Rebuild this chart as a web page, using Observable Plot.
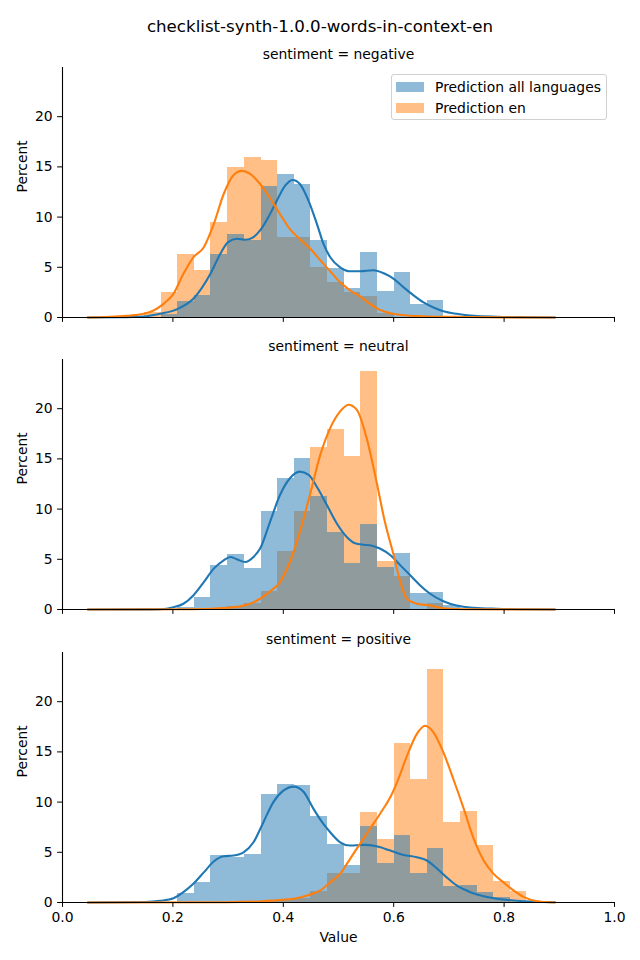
<!DOCTYPE html>
<html><head><meta charset="utf-8">
<script src="https://cdn.jsdelivr.net/npm/d3@7"></script>
<script src="https://cdn.jsdelivr.net/npm/@observablehq/plot@0.6"></script>
<style>
body{margin:0;background:#fff;font-family:"DejaVu Sans",sans-serif;}
#fig{position:relative;width:640px;height:960px;background:#fff;}
#title{position:absolute;top:17px;left:0;width:640px;text-align:center;font-size:16.67px;line-height:20px;color:#000;}
.panel{position:absolute;left:0;}
#legend{position:absolute;left:391px;top:74px;width:216px;height:46px;box-sizing:border-box;border:1px solid #d0d0d0;border-radius:3px;background:rgba(255,255,255,0.8);z-index:5;font-size:13.9px;color:#000;}
.lrow{position:absolute;left:4px;height:16px;line-height:16px;}
.lpatch{position:absolute;left:0;top:3px;width:28px;height:10px;}
.ltext{position:absolute;left:39px;top:0;white-space:nowrap;}
</style></head>
<body><div id="fig"><div id="title">checklist-synth-1.0.0-words-in-context-en</div></div>
<script>
// ---------------- data ----------------
const facets = ["negative", "neutral", "positive"];
const seriesNames = ["Prediction all languages", "Prediction en"];
const xTicks = [0, 0.2, 0.4, 0.6, 0.8, 1.0];
const yTicks = [0, 5, 10, 15, 20];
const binEdges = [0.149, 0.179, 0.209, 0.239, 0.269, 0.299, 0.329, 0.360, 0.390, 0.420, 0.450, 0.480,
                  0.510, 0.540, 0.571, 0.601, 0.631, 0.661, 0.691, 0.721, 0.751, 0.781, 0.811, 0.841];
// percent per bin (23 bins)
const negAll = [0, 0.3, 1.63, 2.19, 6.28, 8.27, 7.68, 13.06, 14.26, 13.26, 7.68, 4.87, 2.87, 6.45, 2.63, 4.49, 1.30, 1.70, 0, 0, 0, 0, 0];
const negEn  = [0.47, 2.5, 6.28, 4.69, 9.47, 14.96, 15.95, 15.68, 7.98, 7.98, 4.99, 3.52, 2.49, 2.09, 0.43, 0, 0, 0, 0, 0, 0, 0, 0];
const neuAll = [0, 0, 0.2, 1.17, 4.4, 5.5, 4.13, 9.8, 13.0, 15.0, 11.3, 7.7, 4.6, 8.5, 4.2, 5.6, 1.6, 1.67, 0.35, 0, 0, 0, 0];
const neuEn  = [0, 0, 0, 0, 0.1, 0.3, 0.57, 1.8, 5.8, 9.73, 16.1, 17.9, 15.2, 23.73, 4.8, 3.33, 0, 0.57, 0, 0, 0, 0, 0];
const posAll = [0, 0, 0.87, 1.98, 4.68, 4.48, 4.78, 10.75, 11.74, 11.64, 8.56, 5.77, 3.68, 7.56, 3.88, 6.67, 2.89, 5.37, 1.62, 1.69, 1.0, 0.5, 0];
const posEn  = [0, 0, 0, 0, 0, 0, 0, 0.1, 0.3, 0.4, 1.1, 2.89, 2.89, 8.96, 6.27, 15.82, 12.24, 23.18, 7.96, 9.05, 5.67, 2.09, 1.09];

const kdeNegAll = [[0.046,0],[0.10,0.02],[0.147,0.1],[0.177,0.37],[0.209,0.86],[0.237,1.86],[0.268,4.35],[0.286,6.35],[0.300,7.5],[0.316,7.84],[0.331,7.74],[0.346,8.01],[0.358,8.67],[0.373,10.0],[0.388,11.6],[0.403,13.1],[0.417,13.7],[0.430,13.3],[0.446,11.6],[0.461,9.3],[0.473,7.3],[0.485,6.0],[0.503,5.0],[0.521,4.6],[0.539,4.6],[0.563,4.7],[0.582,4.4],[0.600,3.85],[0.618,3.0],[0.636,2.2],[0.654,1.5],[0.672,1.0],[0.690,0.63],[0.714,0.37],[0.745,0.17],[0.787,0.08],[0.84,0.03],[0.892,0]];
const kdeNegEn = [[0.046,0],[0.117,0.17],[0.147,0.37],[0.165,0.7],[0.183,1.36],[0.201,2.36],[0.219,4.35],[0.237,6.0],[0.256,7.0],[0.274,9.3],[0.292,12.3],[0.310,14.2],[0.325,14.6],[0.340,14.3],[0.358,13.3],[0.376,11.9],[0.394,10.3],[0.412,8.8],[0.430,7.8],[0.449,6.85],[0.467,5.7],[0.485,4.6],[0.503,3.5],[0.521,2.7],[0.539,2.1],[0.557,1.36],[0.575,0.76],[0.594,0.43],[0.618,0.23],[0.654,0.13],[0.727,0.05],[0.80,0.01],[0.892,0]];
const kdeNeuAll = [[0.046,0],[0.15,0.01],[0.177,0.03],[0.201,0.23],[0.219,0.57],[0.237,1.4],[0.256,2.73],[0.274,4.07],[0.292,4.9],[0.304,5.23],[0.316,5.0],[0.331,4.73],[0.346,5.23],[0.358,6.07],[0.376,8.73],[0.394,11.4],[0.412,13.07],[0.430,13.73],[0.446,13.4],[0.461,12.2],[0.479,10.4],[0.497,8.57],[0.515,7.23],[0.530,6.6],[0.545,6.45],[0.557,6.4],[0.575,6.07],[0.594,5.4],[0.612,4.4],[0.630,3.4],[0.648,2.4],[0.666,1.57],[0.690,0.83],[0.714,0.4],[0.745,0.17],[0.787,0.07],[0.84,0.02],[0.892,0]];
const kdeNeuEn = [[0.046,0],[0.237,0.03],[0.298,0.17],[0.334,0.47],[0.358,1.07],[0.376,1.8],[0.394,2.73],[0.412,4.73],[0.430,7.73],[0.449,11.57],[0.467,15.4],[0.485,18.07],[0.503,19.73],[0.518,20.4],[0.533,19.9],[0.551,17.07],[0.569,12.7],[0.584,8.73],[0.600,5.4],[0.612,2.73],[0.624,1.07],[0.642,0.57],[0.666,0.4],[0.690,0.13],[0.727,0.03],[0.892,0]];
const kdePosAll = [[0.046,0],[0.15,0.05],[0.177,0.17],[0.201,0.43],[0.219,1.03],[0.237,1.86],[0.256,3.0],[0.274,4.08],[0.292,4.6],[0.310,4.68],[0.328,5.0],[0.346,6.0],[0.364,8.0],[0.382,10.0],[0.400,11.14],[0.419,11.54],[0.437,11.0],[0.455,9.3],[0.473,7.8],[0.485,7.0],[0.503,6.0],[0.521,5.67],[0.545,5.74],[0.569,5.6],[0.594,5.17],[0.618,4.74],[0.642,4.5],[0.660,4.18],[0.678,3.4],[0.696,2.5],[0.714,1.7],[0.739,1.03],[0.763,0.63],[0.787,0.37],[0.823,0.17],[0.892,0.03]];
const kdePosEn = [[0.046,0],[0.298,0.03],[0.358,0.1],[0.388,0.23],[0.419,0.37],[0.443,0.7],[0.467,1.2],[0.485,2.0],[0.503,2.85],[0.521,4.35],[0.539,5.84],[0.557,7.33],[0.575,8.82],[0.594,10.5],[0.606,11.97],[0.624,14.6],[0.642,16.8],[0.657,17.6],[0.672,16.95],[0.690,14.96],[0.708,12.3],[0.727,9.32],[0.745,6.33],[0.763,4.18],[0.781,2.85],[0.799,2.0],[0.817,1.2],[0.836,0.53],[0.860,0.13],[0.892,0]];

const colors = {"Prediction all languages": "#1f77b4", "Prediction en": "#ff7f0e"};
const histData = {negative: [negAll, negEn], neutral: [neuAll, neuEn], positive: [posAll, posEn]};
const kdeData = {negative: [kdeNegAll, kdeNegEn], neutral: [kdeNeuAll, kdeNeuEn], positive: [kdePosAll, kdePosEn]};

// ---------------- layout ----------------
const fig = document.getElementById("fig");
const frameTops = [67, 359, 652];
const frameH = 250;
const mTop = 30;

facets.forEach((f, i) => {
  const last = i === facets.length - 1;
  const mBottom = last ? 58 : 12;
  const bins = (vals, name) => vals.map((v, k) => ({x1: binEdges[k], x2: binEdges[k + 1], y: v, s: name})).filter(d => d.y > 0);
  const [allVals, enVals] = histData[f];
  const [kAll, kEn] = kdeData[f];
  const marks = [
    Plot.rectY(bins(enVals, seriesNames[1]), {x1: "x1", x2: "x2", y1: 0, y2: "y", fill: colors[seriesNames[1]], fillOpacity: 0.5, shapeRendering: "crispEdges"}),
    Plot.rectY(bins(allVals, seriesNames[0]), {x1: "x1", x2: "x2", y1: 0, y2: "y", fill: colors[seriesNames[0]], fillOpacity: 0.5, shapeRendering: "crispEdges"}),
    Plot.line(kAll, {x: d => d[0], y: d => d[1], stroke: colors[seriesNames[0]], strokeWidth: 2.1, curve: "monotone-x"}),
    Plot.line(kEn, {x: d => d[0], y: d => d[1], stroke: colors[seriesNames[1]], strokeWidth: 2.1, curve: "monotone-x"}),
    Plot.axisY({ticks: yTicks, tickSize: 4.9, tickPadding: 4.9, tickFormat: d3.format("d"), label: null}),
    Plot.axisX({ticks: xTicks, tickSize: 4.9, tickPadding: 4.9, tickFormat: last ? d3.format(".1f") : () => "", label: null}),
    Plot.ruleX([0], {stroke: "#000", strokeWidth: 1.1}),
    Plot.ruleY([0], {stroke: "#000", strokeWidth: 1.1}),
    Plot.text([`sentiment = ${f}`], {frameAnchor: "top", lineAnchor: "middle", dy: -13, fill: "#000"}),
    Plot.text(["Percent"], {frameAnchor: "left", lineAnchor: "middle", rotate: -90, dx: -40, fill: "#000"})
  ];
  if (last) marks.push(Plot.text(["Value"], {frameAnchor: "bottom", lineAnchor: "middle", dy: 35, fill: "#000"}));
  const chart = Plot.plot({
    width: 640,
    height: mTop + frameH + mBottom,
    marginLeft: 62,
    marginRight: 26,
    marginTop: mTop,
    marginBottom: mBottom,
    x: {domain: [0, 1]},
    y: {domain: [0, 24.9]},
    style: {fontFamily: "DejaVu Sans, sans-serif", fontSize: "13.9px", color: "#000", background: "transparent", overflow: "visible"},
    marks
  });
  chart.classList.add("panel");
  chart.style.top = (frameTops[i] - mTop) + "px";
  chart.style.position = "absolute";
  fig.appendChild(chart);
});

// legend
const legend = document.createElement("div");
legend.id = "legend";
seriesNames.forEach((s, k) => {
  const row = document.createElement("div");
  row.className = "lrow";
  row.style.top = (k === 0 ? 4 : 25) + "px";
  const p = document.createElement("div");
  p.className = "lpatch";
  p.style.background = colors[s];
  p.style.opacity = 0.5;
  const t = document.createElement("div");
  t.className = "ltext";
  t.textContent = s;
  row.appendChild(p); row.appendChild(t);
  legend.appendChild(row);
});
fig.appendChild(legend);
</script>
</body></html>
